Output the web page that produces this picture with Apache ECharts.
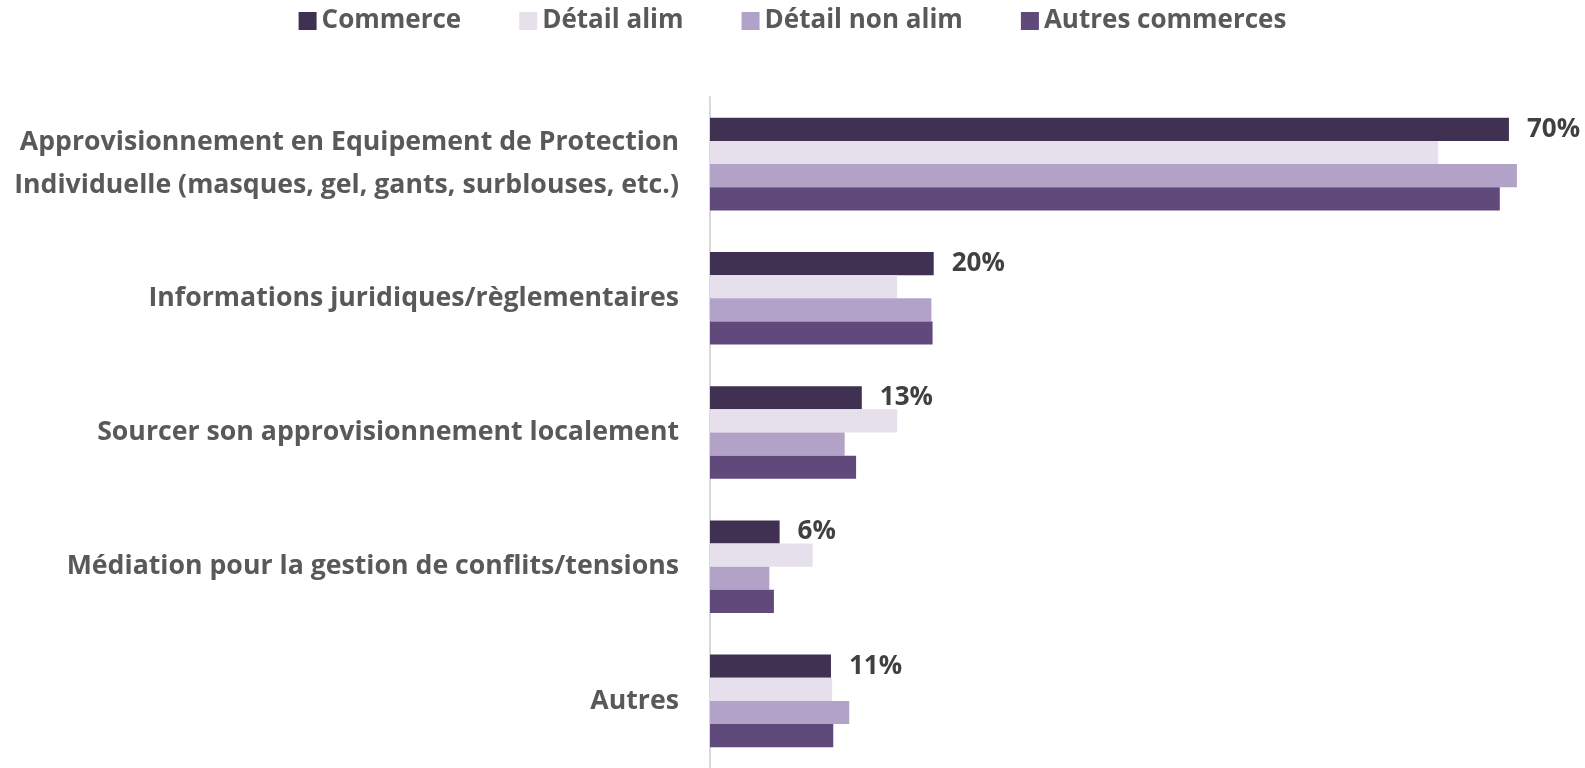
<!DOCTYPE html>
<html>
<head>
<meta charset="utf-8">
<script src="https://cdn.jsdelivr.net/npm/echarts@6/dist/echarts.min.js"></script>
<style>
  html, body { margin: 0; padding: 0; background: #fff; }
  #chart { width: 1585px; height: 768px; }
</style>
</head>
<body>
<div id="chart"></div>
<script>
// données (en %)
const categories = [
    'Approvisionnement en Equipement de Protection\nIndividuelle (masques, gel, gants, surblouses, etc.)',
    'Informations juridiques/règlementaires',
    'Sourcer son approvisionnement localement',
    'Médiation pour la gestion de conflits/tensions',
    'Autres'
];
const seriesNames = ['Commerce', 'Détail alim', 'Détail non alim', 'Autres commerces'];
const commerce = [70, 19.6, 13.3, 6.1, 10.6];
const detailAlim = [63.8, 16.4, 16.4, 9.0, 10.7];
const detailNonAlim = [70.7, 19.4, 11.8, 5.2, 12.2];
const autresCommerces = [69.2, 19.5, 12.8, 5.6, 10.8];
const colors = ['#403152', '#E6E0EC', '#B3A2C7', '#604A7B'];

const fontFamily = '"Open Sans", sans-serif';
const chart = echarts.init(document.getElementById('chart'));

function barSeries(name, data, color, withLabel) {
    return {
        name: name,
        type: 'bar',
        data: data,
        barGap: '0%',
        barCategoryGap: '31%',
        itemStyle: { color: color },
        label: {
            show: withLabel,
            position: 'right',
            distance: 18,
            fontFamily: fontFamily,
            fontWeight: 'bold',
            fontSize: 26,
            color: '#404040',
            formatter: function (p) { return Math.round(p.value) + '%'; }
        }
    };
}

const option = {
    animation: false,
    backgroundColor: '#fff',
    legend: {
        data: seriesNames,
        top: 3,
        left: 'center',
        icon: 'rect',
        itemWidth: 18,
        itemHeight: 18,
        itemGap: 58,
        textStyle: { fontFamily: fontFamily, fontWeight: 'bold', fontSize: 26, color: '#595959' }
    },
    grid: { left: 710, right: 19, top: 97, bottom: 0, containLabel: false },
    xAxis: {
        type: 'value',
        min: 0,
        max: 75,
        show: false
    },
    yAxis: {
        type: 'category',
        data: categories,
        inverse: true,
        axisLine: { show: true, lineStyle: { color: '#D9D9D9', width: 2 } },
        axisTick: { show: false },
        axisLabel: {
            margin: 31,
            fontFamily: fontFamily,
            fontWeight: 'bold',
            fontSize: 26.7,
            lineHeight: 43,
            color: '#595959',
            align: 'right'
        }
    },
    series: [
        barSeries(seriesNames[0], commerce, colors[0], true),
        barSeries(seriesNames[1], detailAlim, colors[1], false),
        barSeries(seriesNames[2], detailNonAlim, colors[2], false),
        barSeries(seriesNames[3], autresCommerces, colors[3], false)
    ]
};

chart.setOption(option);
</script>
</body>
</html>
